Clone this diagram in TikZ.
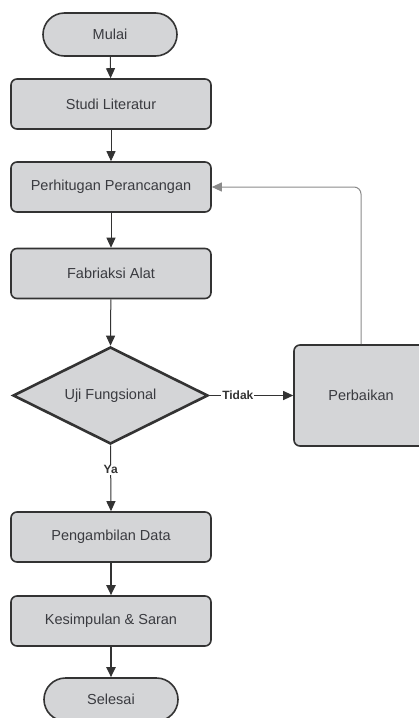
\documentclass[tikz,border=0pt]{standalone}
\usepackage{fontspec}
\setmainfont{Liberation Sans}
\usetikzlibrary{shapes.geometric,arrows.meta}
\definecolor{boxfill}{HTML}{D4D5D7}
\definecolor{boxline}{HTML}{333333}
\definecolor{txt}{HTML}{3A3B40}
\definecolor{fbline}{HTML}{8A8A8A}
\begin{document}
\begin{tikzpicture}[x=1pt,y=-1pt,
  base/.style={fill=boxfill,draw=boxline,text=txt,font=\fontsize{14.5}{16}\selectfont,inner sep=0pt},
  stepbox/.style={base,rectangle,rounded corners=6pt,line width=1.6pt,minimum width=200pt,minimum height=50pt},
  term/.style={base,rectangle,rounded corners=21.5pt,line width=1.6pt,minimum width=134pt,minimum height=43pt},
  decide/.style={base,diamond,aspect=2,line width=2.6pt,minimum width=195pt,minimum height=97pt},
  flow/.style={draw=boxline,line width=1pt,-{Triangle[length=10pt,width=9pt]}},
  flowthick/.style={draw=boxline,line width=2pt,-{Triangle[length=10pt,width=9pt]}},
  lbl/.style={fill=white,text=boxline,font=\bfseries\fontsize{12}{14}\selectfont,inner sep=1pt}
]
\useasboundingbox (0,0) rectangle (419,718);
\node[term] (mulai) at (110,34.5) {Mulai};
\node[stepbox] (studi) at (111,104) {Studi Literatur};
\node[stepbox] (hitung) at (111,187) {Perhitugan Perancangan};
\node[stepbox] (fab) at (111,273.5) {Fabriaksi Alat};
\node[decide] (uji) at (110.5,395.5) {Uji Fungsional};
\node[stepbox,minimum width=134pt,minimum height=101pt] (perb) at (361,395.5) {Perbaikan};
\node[stepbox] (ambil) at (111,537) {Pengambilan Data};
\node[stepbox] (simpul) at (111,621) {Kesimpulan \& Saran};
\node[term] (selesai) at (111,699.5) {Selesai};

\draw[flow] (mulai) -- (studi);
\draw[flow] (studi) -- (hitung);
\draw[flow] (hitung) -- (fab);
\draw[flow] (fab) -- (uji.north);
\draw[flow] (uji.east) -- node[lbl,pos=0.34] (tidak) {Tidak} (perb.west);
\draw[flow] (uji.south) -- node[lbl,pos=0.37] (ya) {Ya} (ambil.north);
\draw[flowthick] (ambil) -- (simpul);
\draw[flowthick] (simpul) -- (selesai);
\draw[draw=fbline,line width=1pt,rounded corners=7pt,-{Triangle[length=10pt,width=9pt]}]
  (perb.north) -- (perb.north |- hitung.east) -- (hitung.east);
\end{tikzpicture}
\end{document}
